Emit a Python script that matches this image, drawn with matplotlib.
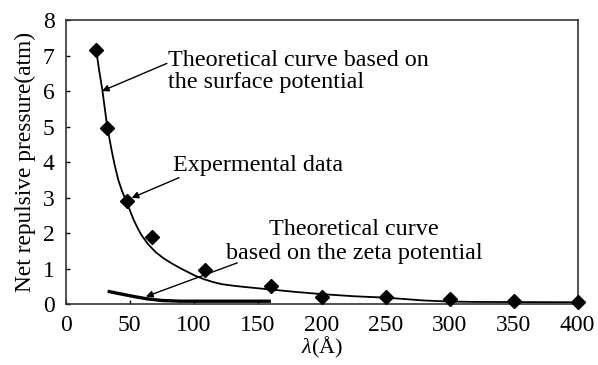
import matplotlib
matplotlib.use("Agg")
import matplotlib.pyplot as plt

# measured net repulsive pressure
exp_x = [24, 32, 48, 67, 109, 160, 200, 250, 300, 350, 400]
exp_y = [7.15, 4.97, 2.9, 1.9, 0.95, 0.51, 0.21, 0.2, 0.13, 0.08, 0.05]

# theory, surface potential
surf_x = [24, 26, 28.5, 32, 34, 36, 38, 41, 44, 47.5, 52.7, 56, 59, 64, 70,
          76, 83, 90, 101, 108, 115, 122, 130, 140, 160, 180, 200, 225, 250,
          265, 280, 300, 320, 400]
surf_y = [7.1, 6.6, 6.05, 5.1, 4.68, 4.3, 3.95, 3.5, 3.18, 2.88, 2.4, 2.15,
          1.95, 1.7, 1.47, 1.3, 1.14, 1.0, 0.8, 0.7, 0.62, 0.56, 0.52, 0.48,
          0.41, 0.34, 0.28, 0.22, 0.18, 0.14, 0.1, 0.07, 0.06, 0.05]

# theory, zeta potential
zeta_x = [34, 45, 55, 63, 75, 90, 120, 159]
zeta_y = [0.35, 0.27, 0.2, 0.15, 0.1, 0.08, 0.08, 0.08]

plt.rcParams["font.family"] = ["Liberation Serif", "DejaVu Serif"]
plt.rcParams["mathtext.fontset"] = "custom"
plt.rcParams["mathtext.rm"] = "Liberation Serif"
plt.rcParams["mathtext.it"] = "Liberation Serif:italic"

fig = plt.figure(figsize=(5.98, 3.65), dpi=100)
ax = fig.add_axes([0.110, 0.167, 0.856, 0.778])

ax.plot(surf_x, surf_y, color="black", lw=1.3, zorder=2)
ax.plot(zeta_x, zeta_y, color="black", lw=2.4, zorder=2)
ax.plot(exp_x, exp_y, linestyle="none", marker="D", ms=7.5, color="black",
        clip_on=False, zorder=3)

ax.set_xlim(0, 400)
ax.set_ylim(0, 8)
ax.set_xticks(range(0, 401, 50))
ax.set_yticks(range(0, 9))
ax.tick_params(direction="in", length=3, labelsize=17, width=1, pad=8)
for s in ax.spines.values():
    s.set_linewidth(1.2)
    s.set_color("#333333")

ax.set_xlabel("$\\lambda$(Å)", fontsize=16, labelpad=-1)
ax.set_ylabel("Net repulsive pressure(atm)", fontsize=16.8, labelpad=5)

arrow = dict(arrowstyle="-|>", color="black", lw=1.0, mutation_scale=10,
             shrinkA=0, shrinkB=0)
ax.annotate("", xy=(28.2, 6.0), xytext=(79, 6.78), arrowprops=arrow)
ax.annotate("", xy=(51.4, 2.99), xytext=(88.5, 3.56), arrowprops=arrow)
ax.annotate("", xy=(62.6, 0.21), xytext=(134, 1.16), arrowprops=arrow)

ax.text(80, 6.56, "Theoretical curve based on\nthe surface potential",
        fontsize=17.4, ha="left", va="center", linespacing=1.06)
ax.text(84, 3.89, "Expermental data", fontsize=17.4, ha="left", va="center")
ax.text(225.5, 1.76, "Theoretical curve\nbased on the zeta potential",
        fontsize=17.4, ha="center", va="center", multialignment="center",
        linespacing=1.15)

fig.savefig("out.png", dpi=100)
